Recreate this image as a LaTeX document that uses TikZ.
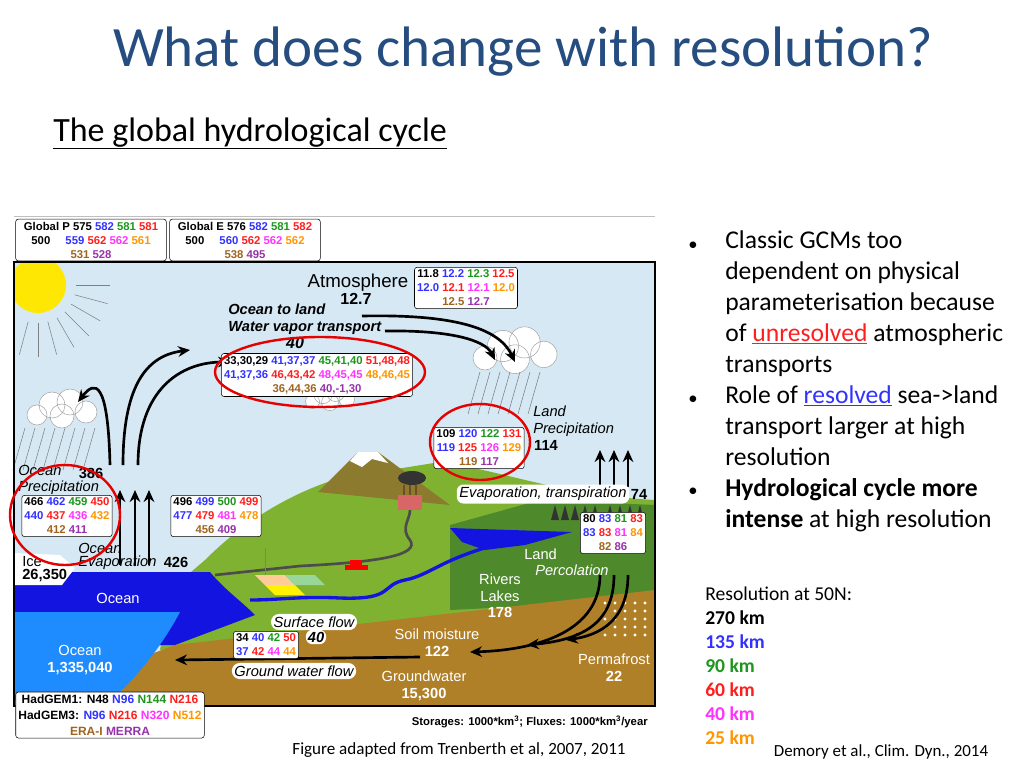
\documentclass[tikz,border=0pt]{standalone}
\usepackage{fontspec}
\setmainfont{Carlito}
\newfontfamily\arial{Liberation Sans}
\usetikzlibrary{arrows.meta,calc}
\definecolor{titleblue}{RGB}{37,77,128}
\definecolor{sky}{RGB}{214,232,243}
\definecolor{landgreen}{RGB}{128,178,50}
\definecolor{darkgreen}{RGB}{78,138,44}
\definecolor{mountain}{RGB}{140,122,46}
\definecolor{soil}{RGB}{176,128,40}
\definecolor{seablue}{RGB}{20,20,225}
\definecolor{deepblue}{RGB}{30,140,255}
\definecolor{nb}{RGB}{50,50,255}
\definecolor{ng}{RGB}{30,150,30}
\definecolor{nr}{RGB}{255,30,30}
\definecolor{nm}{RGB}{255,50,255}
\definecolor{no}{RGB}{255,150,0}
\definecolor{nw}{RGB}{160,100,30}
\definecolor{np}{RGB}{150,50,170}
\definecolor{ringred}{RGB}{230,0,0}
\tikzset{
  numbox/.style={draw, rounded corners=2pt, fill=white, inner sep=2pt, align=center,
    font=\arial\bfseries\fontsize{8.5}{10.5}\selectfont},
  lbl/.style={font=\arial\fontsize{11}{12.5}\selectfont, align=center, inner sep=0pt},
  ilbl/.style={font=\arial\itshape\fontsize{11}{12.5}\selectfont, align=left, inner sep=0pt},
  blbl/.style={lbl, font=\arial\bfseries\fontsize{11}{12.5}\selectfont},
  wlbl/.style={lbl, text=white},
  flow/.style={line width=2pt, -{Stealth[length=9pt,width=8pt]}},
  ring/.style={draw=ringred, line width=1.8pt},
  rain/.style={gray, thin},
  cloud/.style={fill=white, draw=gray!70},
  bul/.style={font=\fontsize{19.2}{23.25}\selectfont, anchor=base west, inner sep=0pt, align=left},
}
\begin{document}
\begin{tikzpicture}[x=0.75pt, y=-0.75pt]
    \useasboundingbox (0,0) rectangle (1024,768);
    % title
    \node[text=titleblue, font=\fontsize{42.8}{46}\selectfont] (title) at (523,52) {What does change with resolution?};
    \node[anchor=base west, inner sep=0pt, font=\fontsize{25.5}{28}\selectfont] (sub) at (53,141) {\underline{The global hydrological cycle}};
    % scene
    \draw[gray!50] (14,216) -- (655,216);
    \fill[sky] (14,262) rectangle (655,706);
    \fill[landgreen] (170,590) -- (205,560) .. controls (250,515) and (300,490) .. (340,478) -- (440,462) .. controls (500,470) and (560,495) .. (655,500) -- (655,600) -- (160,650) -- cycle;
    \fill[mountain] (318,492) -- (358,452) -- (378,452) -- (450,505) -- cycle;
    \fill[white] (350,461) -- (358,452) -- (378,452) -- (388,463) -- (372,459) -- (362,467) -- cycle;
    \fill[darkgreen] (450,525) -- (540,500) -- (655,505) -- (655,600) -- (450,610) -- cycle;
    \fill[soil] (175,645) -- (655,590) -- (655,706) -- (14,706) -- cycle;
    \fill[seablue] (14,572) -- (210,572) .. controls (225,590) and (240,600) .. (255,615) -- (175,645) -- (14,645) -- cycle;
    \fill[deepblue] (14,612) -- (180,612) .. controls (160,650) and (130,685) .. (110,700) -- (14,700) -- cycle;
    \fill[white] (14,553) -- (60,555) -- (75,568) -- (62,585) -- (14,585) -- cycle;
    % lake, river, road
    \fill[seablue] (450,528) -- (572,532) -- (525,545) -- (485,550) -- (462,542) -- cycle;
    \draw[seablue, line width=2.5pt] (495,545) .. controls (440,560) and (430,575) .. (405,580) .. controls (380,585) and (395,600) .. (340,598) .. controls (300,596) and (280,600) .. (250,600);
    \draw[gray!60!black, line width=2pt] (215,575) -- (300,566) .. controls (380,562) and (420,555) .. (410,540) .. controls (400,528) and (410,520) .. (410,510);
    \fill[red!75!black!60] (398,495) rectangle (422,510);
    \foreach \cx in {404,410,416} \draw[line width=1.5pt, brown!60!black] (\cx,495) -- (\cx,485);
    \fill[gray!40!black] (412,478) ellipse (14 and 7);
    \fill[red] (345,565) rectangle (368,570);
    \fill[red] (350,560) rectangle (362,565);
    \fill[orange!40] (255,575) -- (285,575) -- (295,585) -- (265,585) -- cycle;
    \fill[green!60!black!40] (285,575) -- (315,575) -- (325,585) -- (295,585) -- cycle;
    \fill[yellow] (265,585) -- (295,585) -- (305,595) -- (275,595) -- cycle;
    \draw[gray] (265,575) -- (265,548);
    \foreach \tx in {555,565,575,585,595,610,620,630,640}
      \fill[black!80] (\tx,505) -- (\tx+4,520) -- (\tx-4,520) -- cycle;
    \foreach \px in {605,615,...,645} \foreach \py in {603,611,...,640}
      \fill[white] (\px,\py) circle (1.6);
    % sun
    \begin{scope}
      \clip (14,262) rectangle (655,706);
      \fill[yellow!90!orange] (38,285) circle (28);
      \foreach \a in {0,15,...,105} \draw[gray] ($(38,285)+(\a:38)$) -- ($(38,285)+(\a:72)$);
    \end{scope}
    % clouds
    \foreach \cx/\cy/\s in {62/410/1, 515/352/1.2, 330/398/0.7} {
      \fill[cloud] (\cx-25*\s,\cy+5*\s) circle (10*\s) (\cx-10*\s,\cy-5*\s) circle (13*\s) (\cx+8*\s,\cy-8*\s) circle (13*\s) (\cx+24*\s,\cy+2*\s) circle (11*\s) (\cx,\cy+6*\s) circle (12*\s);
    }
    \foreach \rx in {25,35,...,95} \draw[rain] (\rx,428) -- (\rx-12,470);
    \foreach \rx in {480,490,...,545} \draw[rain] (\rx,372) -- (\rx-12,414);
    \draw[line width=2pt] (14,262) rectangle (655,706);
    % arrows
    \draw[flow] (110,465) .. controls (108,380) and (95,380) .. (78,402);
    \draw[flow] (123,465) .. controls (123,380) and (150,355) .. (190,350);
    \draw[flow] (138,465) .. controls (138,390) and (180,362) .. (230,362);
    \draw[flow] (362,316) .. controls (460,314) and (500,330) .. (515,362);
    \draw[flow] (385,331) .. controls (450,330) and (485,340) .. (495,360);
    \foreach \ax in {120,135,149} \draw[flow] (\ax,565) -- (\ax,490);
    \foreach \ax in {600,614,628} \draw[flow] (\ax,487) -- (\ax,450);
    \draw[flow] (600,575) .. controls (600,630) and (540,650) .. (470,652);
    \draw[flow] (614,575) .. controls (614,625) and (580,640) .. (527,645);
    \draw[flow] (628,575) .. controls (628,620) and (600,635) .. (566,640);
    \draw[flow] (420,657) -- (175,660);
    % labels
    \node[lbl, font=\arial\fontsize{14}{15}\selectfont] (atm) at (358,283) {Atmosphere};
    \node[blbl, font=\arial\bfseries\fontsize{12}{13}\selectfont] (atmv) at (356,299) {12.7};
    \node[ilbl, font=\arial\bfseries\itshape\fontsize{11}{12.5}\selectfont, anchor=west] (otl) at (228,319) {Ocean to land\\Water vapor transport};
    \node[blbl, font=\arial\bfseries\itshape\fontsize{12}{13}\selectfont] (otlv) at (295,343) {40};
    \node[ilbl, anchor=west] (oprec) at (18,480) {Ocean\\Precipitation};
    \node[blbl] (oprecv) at (91,473) {386};
    \node[ilbl, anchor=west] (oevap1) at (78,548) {Ocean};
    \node[ilbl, anchor=west] (oevap2) at (78,563) {Evaporation};
    \node[blbl] (oevapv) at (176,562) {426};
    \node[lbl, anchor=west] (ice) at (22,562) {Ice};
    \node[blbl, anchor=west] (icev) at (22,576) {26,350};
    \node[wlbl] (ocean) at (118,598) {Ocean};
    \node[wlbl] (deep) at (80,660) {Ocean\\\bfseries 1,335,040};
    \node[ilbl, anchor=west] (lprec) at (533,421) {Land\\Precipitation};
    \node[blbl] (lprecv) at (546,445) {114};
    \node[ilbl, fill=white, rounded corners=5pt, inner sep=2pt] (levap) at (543,494) {Evaporation, transpiration};
    \node[blbl] (levapv) at (639,494) {74};
    \node[wlbl, anchor=west] (land) at (524,554) {Land};
    \node[wlbl, font=\arial\itshape\fontsize{11}{12.5}\selectfont, anchor=west] (perc) at (535,570) {Percolation};
    \node[wlbl] (rivers) at (500,596) {Rivers\\Lakes\\\bfseries 178};
    \node[ilbl, fill=white, rounded corners=6pt, inner sep=2pt] (sflow) at (314,622) {Surface flow};
    \node[blbl, fill=white, rounded corners=5pt, inner sep=1.5pt, font=\arial\bfseries\itshape\fontsize{11}{12}\selectfont] (sflowv) at (316,637) {40};
    \node[ilbl, fill=white, rounded corners=6pt, inner sep=2pt] (gflow) at (294,671) {Ground water flow};
    \node[wlbl] (soilm) at (437,643) {Soil moisture\\\bfseries 122};
    \node[wlbl] (gw) at (424,686) {Groundwater\\\bfseries 15,300};
    \node[wlbl] (perma) at (614,668) {Permafrost\\\bfseries 22};
    \node[lbl, font=\arial\bfseries\fontsize{8.5}{9}\selectfont, anchor=east] (units) at (648,722) {Storages: 1000*km\textsuperscript{3}; Fluxes: 1000*km\textsuperscript{3}/year};
    % number boxes
    \node[numbox, minimum width=113pt] (gp) at (91,240) {Global P 575 {\color{nb}582} {\color{ng}581} {\color{nr}581}\\500\hspace{9pt} {\color{nb}559} {\color{nr}562} {\color{nm}562} {\color{no}561}\\{\color{nw}531} {\color{np}528}};
    \node[numbox, minimum width=113pt] (ge) at (245,240) {Global E 576 {\color{nb}582} {\color{ng}581} {\color{nr}582}\\500\hspace{9pt} {\color{nb}560} {\color{nr}562} {\color{nm}562} {\color{no}562}\\{\color{nw}538} {\color{np}495}};
    \node[numbox] (atmb) at (466,288) {11.8 {\color{nb}12.2} {\color{ng}12.3} {\color{nr}12.5}\\{\color{nb}12.0} {\color{nr}12.1} {\color{nm}12.1} {\color{no}12.0}\\{\color{nw}12.5} {\color{np}12.7}};
    \node[numbox] (trb) at (317,375) {33,30,29 {\color{nb}41,37,37} {\color{ng}45,41,40} {\color{nr}51,48,48}\\{\color{nb}41,37,36} {\color{nr}46,43,42} {\color{nm}48,45,45} {\color{no}48,46,45}\\{\color{nw}36,44,36} {\color{np}40,-1,30}};
    \node[numbox] (lpb) at (479,448) {109 {\color{nb}120} {\color{ng}122} {\color{nr}131}\\{\color{nb}119} {\color{nr}125} {\color{nm}126} {\color{no}129}\\{\color{nw}119} {\color{np}117}};
    \node[numbox] (opb) at (67,516) {466 {\color{nb}462} {\color{ng}459} {\color{nr}450}\\{\color{nb}440} {\color{nr}437} {\color{nm}436} {\color{no}432}\\{\color{nw}412} {\color{np}411}};
    \node[numbox] (oeb) at (216,516) {496 {\color{nb}499} {\color{ng}500} {\color{nr}499}\\{\color{nb}477} {\color{nr}479} {\color{nm}481} {\color{no}478}\\{\color{nw}456} {\color{np}409}};
    \node[numbox] (leb) at (613,533) {80 {\color{nb}83} {\color{ng}81} {\color{nr}83}\\{\color{nb}83} {\color{nr}83} {\color{nm}81} {\color{no}84}\\{\color{nw}82} {\color{np}86}};
    \node[numbox] (sfb) at (266,645) {34 {\color{nb}40} {\color{ng}42} {\color{nr}50}\\{\color{nb}37} {\color{nr}42} {\color{nm}44} {\color{no}44}};
    \node[numbox, font=\arial\bfseries\fontsize{9}{12}\selectfont] (leg) at (110,715) {HadGEM1: N48 {\color{nb}N96} {\color{ng}N144} {\color{nr}N216}\\HadGEM3: {\color{nb}N96} {\color{nr}N216} {\color{nm}N320} {\color{no}N512}\\{\color{nw}ERA-I} {\color{np}MERRA}};
    % red rings
    \draw[ring] (320,372) ellipse (105 and 35);
    \draw[ring] (480,442) ellipse (50 and 38);
    \draw[ring] (65,515) ellipse (55 and 50);
    % captions
    \node[font=\fontsize{12.8}{14}\selectfont] (cap) at (459,750) {Figure adapted from Trenberth et al, 2007, 2011};
    \node[font=\fontsize{12.7}{14}\selectfont] (ref) at (881,752) {Demory et al., Clim. Dyn., 2014};
    % bullets
    \foreach \by in {251,405,497} \node[bul, font=\fontsize{14}{16}\selectfont] at (688,\by-1) {•};
    \node[bul, anchor=north west] (b1) at (725,230) {Classic GCMs too\\dependent on physical\\parameterisation because\\of {\color{nr}\underline{unresolved}} atmospheric\\transports\\Role of {\color{nb}\underline{resolved}} sea->land\\transport larger at high\\resolution\\\textbf{Hydrological cycle more}\\\textbf{intense} at high resolution};
    \node[anchor=north west, inner sep=0pt, align=left, font=\fontsize{14.7}{18}\selectfont] (res) at (705,587) {Resolution at 50N:\\\textbf{270 km}\\{\color{nb}\textbf{135 km}}\\{\color{ng}\textbf{90 km}}\\{\color{nr}\textbf{60 km}}\\{\color{nm}\textbf{40 km}}\\{\color{no}\textbf{25 km}}};
\end{tikzpicture}
\end{document}
